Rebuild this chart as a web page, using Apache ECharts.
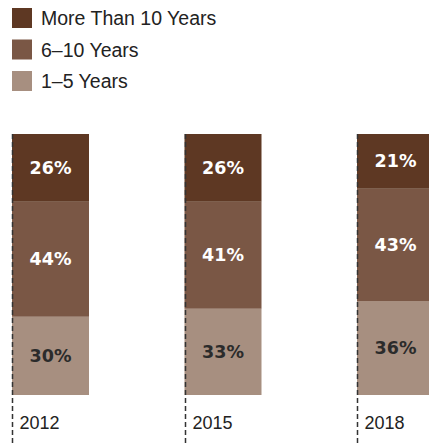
<!DOCTYPE html>
<html>
<head>
<meta charset="utf-8">
<script src="https://cdn.jsdelivr.net/npm/echarts@6/dist/echarts.min.js"></script>
<style>
html,body{margin:0;padding:0;background:#fff;}
#chart{width:429px;height:446px;}
</style>
</head>
<body>
<div id="chart"></div>
<script>
// ---- data ----
const categories = ['2012', '2015', '2018'];
const seriesNames = ['More Than 10 Years', '6\u201310 Years', '1\u20135 Years'];
const years1to5 = [30, 33, 36];
const years6to10 = [44, 41, 43];
const yearsOver10 = [26, 26, 21];

// ---- styles ----
const BAR_W = 77;
const colors = { over10: '#5e3823', mid: '#7a5745', low: '#a78f80' };
const labelFont = 'DejaVu Sans';

const chart = echarts.init(document.getElementById('chart'), null, { renderer: 'svg' });

function barLabel(color) {
  return {
    show: true,
    position: 'inside',
    formatter: '{c}%',
    color: color,
    fontFamily: labelFont,
    fontWeight: 'bold',
    fontSize: 17.5
  };
}

const option = {
  animation: false,
  legend: {
    orient: 'vertical',
    left: 12,
    top: 8,
    padding: 0,
    itemWidth: 20,
    itemHeight: 20,
    itemGap: 11.5,
    icon: 'rect',
    selectedMode: false,
    data: seriesNames,
    textStyle: {
      fontFamily: 'Liberation Sans, Arial, sans-serif',
      fontSize: 19.5,
      color: '#222',
      padding: [0, 0, 0, 4]
    }
  },
  grid: { left: 50.5, right: 33.5, top: 134, bottom: 51 },
  xAxis: {
    type: 'category',
    data: categories,
    boundaryGap: false,
    show: false
  },
  yAxis: { type: 'value', min: 0, max: 100, show: false },
  series: [
    {
      name: seriesNames[2], type: 'bar', stack: 'total', barWidth: BAR_W, clip: false,
      data: years1to5, itemStyle: { color: colors.low },
      label: barLabel('#2b2b2b'), z: 2
    },
    {
      name: seriesNames[1], type: 'bar', stack: 'total', barWidth: BAR_W, clip: false,
      data: years6to10, itemStyle: { color: colors.mid },
      label: barLabel('#ffffff'), z: 2
    },
    {
      name: seriesNames[0], type: 'bar', stack: 'total', barWidth: BAR_W, clip: false,
      data: yearsOver10, itemStyle: { color: colors.over10 },
      label: barLabel('#ffffff'), z: 2
    },
    {
      type: 'custom',
      silent: true,
      z: 20,
      clip: false,
      data: categories.map((c, i) => [i, 100]),
      encode: { x: 0, y: 1 },
      renderItem: function (params, api) {
        const i = api.value(0);
        const top = api.coord([i, api.value(1)]);
        const x = Math.round(top[0] - BAR_W / 2) + 0.5;
        const h = api.getHeight();
        return {
          type: 'group',
          children: [
            {
              type: 'line',
              z2: 100,
              shape: { x1: x, y1: top[1], x2: x, y2: h },
              style: { stroke: '#333', lineWidth: 1.5, lineDash: [5, 3] }
            },
            {
              type: 'text',
              style: {
                text: categories[i],
                x: x + 7,
                y: 423,
                verticalAlign: 'middle',
                align: 'left',
                fill: '#222',
                font: '18px "Liberation Sans", Arial, sans-serif'
              }
            }
          ]
        };
      }
    }
  ]
};
chart.setOption(option);
</script>
</body>
</html>
